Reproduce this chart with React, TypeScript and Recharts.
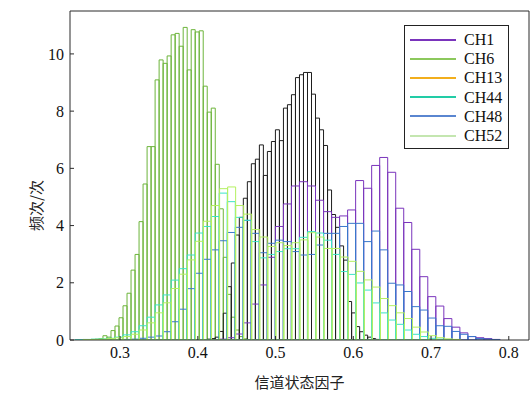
import React from 'react';
import { BarChart, Bar, XAxis, YAxis, Legend } from 'recharts';

const W = 531;
const H = 397;

// x scale of the histogram bins (the top ticks are on it), and the printed bottom labels
const DATA_DOMAIN: [number, number] = [0.2539, 0.8249];
const LABEL_DOMAIN: [number, number] = [0.2356, 0.826];
const Y_MAX = 11.5;

const channels = ['CH1', 'CH6', 'CH13', 'CH44', 'CH48', 'CH52'];
const barColors = ['#7A34BC', '#6CB43A', '#1E1E1E', '#3CE4C8', '#3A78CC', '#B4F060'];
const legendColors = ['#7A34BC', '#8CC85C', '#F2AE1C', '#22CCA6', '#5A86D0', '#C4E6B0'];

const xTicks = [0.3, 0.4, 0.5, 0.6, 0.7, 0.8];
const topTicks = [0.3, 0.35, 0.4, 0.45, 0.5, 0.55, 0.6, 0.65, 0.7, 0.75, 0.8];
const yTicks = [0, 2, 4, 6, 8, 10];

// first bin edge and bin width of each histogram
const binStart = [0.44, 0.28, 0.425, 0.26, 0.32, 0.27];
const binWidth = [0.01, 0.005, 0.005, 0.01, 0.01, 0.01];

const ch1Counts = [
  0.03, 0.08, 0.21, 0.6, 1.26, 1.93, 2.9, 3.98, 4.77, 5.4, 5.55, 5.4, 4.9, 4.5, 4.3, 4.35, 4.56,
  5.59, 5.32, 6.12, 6.4, 5.88, 4.62, 4.12, 3.18, 2.22, 1.52, 1.19, 0.75, 0.45, 0.25, 0.12, 0.08,
  0.05, 0.02,
];
const ch6Counts = [
  0.02, 0.03, 0.05, 0.15, 0.1, 0.33, 0.49, 0.78, 1.2, 1.64, 2.45, 3.0, 4.15, 5.47, 6.78, 6.78,
  9.12, 9.82, 9.7, 9.96, 10.7, 10.75, 10.3, 10.96, 9.47, 10.88, 10.8, 10.84, 8.9, 7.99, 8.13, 6.16,
  4.6, 2.9, 1.6, 0.8, 0.35, 0.12, 0.04,
];
const ch13Counts = [
  0.03, 0.05, 0.1, 0.3, 0.94, 1.87, 2.7, 3.68, 4.3, 4.97, 5.55, 6.18, 6.34, 6.84, 5.77, 6.61,
  6.96, 7.37, 6.99, 8.13, 8.25, 8.6, 9.2, 9.3, 9.38, 9.38, 8.62, 7.78, 7.37, 6.82, 5.26, 4.4,
  3.95, 3.3, 2.8, 1.35, 0.95, 0.47, 0.29, 0.17, 0.1, 0.05, 0.02,
];
const ch44Counts = [
  0.01, 0.02, 0.03, 0.04, 0.06, 0.1, 0.18, 0.29, 0.5, 0.8, 1.23, 1.58, 2.1, 2.5, 2.98, 3.75,
  3.98, 4.33, 5.15, 4.85, 4.3, 4.2, 3.45, 2.88, 3.0, 3.1, 3.2, 3.2, 3.6, 3.8, 3.75, 3.5, 3.0,
  2.4, 2.3, 2.0, 1.75, 1.3, 0.95, 0.7, 0.55, 0.35, 0.2, 0.12, 0.06, 0.03, 0.01,
];
const ch48Counts = [
  0.02, 0.03, 0.06, 0.1, 0.14, 0.29, 0.64, 1.08, 1.8, 2.34, 2.83, 3.16, 3.48, 3.77, 3.95, 4.19,
  3.74, 3.06, 3.39, 3.5, 3.45, 3.1, 2.98, 3.0, 3.33, 3.74, 3.74, 3.98, 4.09, 4.09, 3.45, 3.82,
  3.16, 1.99, 1.93, 1.7, 1.17, 1.05, 0.77, 0.5, 0.48, 0.3, 0.2, 0.12, 0.05, 0.03, 0.01,
];
const ch52Counts = [
  0.01, 0.02, 0.03, 0.05, 0.08, 0.12, 0.2, 0.35, 0.6, 0.95, 1.3, 1.8, 2.3, 2.8, 3.45, 4.15, 4.7,
  5.29, 5.35, 4.7, 4.4, 3.86, 3.6, 3.27, 3.4, 3.3, 3.4, 3.5, 3.75, 3.6, 3.2, 3.2, 2.9, 2.75, 2.4,
  2.1, 1.85, 1.45, 1.2, 0.95, 0.75, 0.45, 0.28, 0.15, 0.08, 0.04, 0.02,
];

const counts = [ch1Counts, ch6Counts, ch13Counts, ch44Counts, ch48Counts, ch52Counts];

const toRows = (k: number) =>
  counts[k].map((n, i) => ({ x: binStart[k] + (i + 0.5) * binWidth[k], n }));

const serif = '"Liberation Serif", "Times New Roman", serif';
const cjk = '"Noto Sans CJK SC", sans-serif';
const axisColor = '#2b2b2b';

const LegendBox = () => (
  <div
    style={{
      border: '1.3px solid #222',
      background: '#fff',
      width: 103,
      padding: '4px 0 3px 0',
      fontFamily: serif,
      fontSize: 16,
      lineHeight: '19.2px',
      color: '#111',
    }}
  >
    {channels.map((c, i) => (
      <div key={c} style={{ display: 'flex', alignItems: 'center' }}>
        <span
          style={{
            display: 'inline-block',
            width: 46,
            height: 2,
            background: legendColors[i],
            marginLeft: 5,
            marginRight: 8,
          }}
        />
        <span>{c}</span>
      </div>
    ))}
  </div>
);

const YLabel = (props: any) => {
  const { viewBox } = props;
  const x = viewBox.x + 25;
  const y = viewBox.y + viewBox.height / 2 + 30;
  return (
    <text
      x={x}
      y={y}
      transform={`rotate(-90, ${x}, ${y})`}
      textAnchor="middle"
      dominantBaseline="central"
      fontFamily={cjk}
      fontSize={15}
      fill="#222"
    >
      频次/次
    </text>
  );
};

const HistLayer = ({ k, withAxes }: { k: number; withAxes: boolean }) => (
  <div style={{ position: 'absolute', left: 0, top: 0 }}>
    <BarChart
      width={W}
      height={H}
      data={toRows(k)}
      margin={withAxes ? { top: 11, right: 2, bottom: 27, left: 10 } : { top: 12, right: 3, bottom: 57, left: 70 }}
      barCategoryGap={0}
      barGap={0}
    >
      <XAxis xAxisId="bins" type="number" dataKey="x" domain={DATA_DOMAIN} allowDataOverflow hide height={0} />
      <YAxis yAxisId="count" type="number" domain={[0, Y_MAX]} allowDataOverflow hide width={0} />
      {withAxes && (
        <XAxis
          xAxisId="labels"
          type="number"
          dataKey="x"
          orientation="bottom"
          domain={LABEL_DOMAIN}
          ticks={xTicks}
          allowDataOverflow
          height={30}
          stroke={axisColor}
          tickSize={-4}
          tickMargin={11}
          tick={{ fill: '#111', fontFamily: serif, fontSize: 16 }}
          label={{
            value: '信道状态因子',
            position: 'bottom',
            offset: 7,
            style: { fontFamily: cjk, fontSize: 15, fill: '#222' },
          }}
        />
      )}
      {withAxes && (
        <XAxis
          xAxisId="top"
          type="number"
          dataKey="x"
          orientation="top"
          domain={DATA_DOMAIN}
          ticks={topTicks}
          allowDataOverflow
          height={1}
          mirror
          tickSize={4}
          tick={false}
          stroke={axisColor}
        />
      )}
      {withAxes && (
        <YAxis
          yAxisId="left"
          type="number"
          domain={[0, Y_MAX]}
          ticks={yTicks}
          allowDataOverflow
          width={60}
          stroke={axisColor}
          tickSize={-4}
          tickMargin={10}
          tick={{ fill: '#111', fontFamily: serif, fontSize: 16 }}
          label={<YLabel />}
        />
      )}
      {withAxes && (
        <YAxis
          yAxisId="right"
          type="number"
          orientation="right"
          domain={[0, Y_MAX]}
          ticks={yTicks}
          allowDataOverflow
          width={1}
          mirror
          tickSize={4}
          tick={false}
          stroke={axisColor}
        />
      )}
      {withAxes && (
        <Legend
          layout="vertical"
          align="center"
          verticalAlign="middle"
          wrapperStyle={{ left: 404, top: 25, width: 106 }}
          content={() => <LegendBox />}
        />
      )}
      <Bar
        xAxisId="bins"
        yAxisId="count"
        dataKey="n"
        fill="none"
        stroke={barColors[k]}
        strokeWidth={1}
        isAnimationActive={false}
      />
    </BarChart>
  </div>
);

// drawing order: CH6 and CH13 first, then the broad histograms on top
const order = [1, 2, 0, 4, 3, 5];

export default function App() {
  return (
    <div style={{ position: 'absolute', left: 0, top: 0, width: W, height: H, background: '#fff' }}>
      {order.map((k, i) => (
        <HistLayer key={channels[k]} k={k} withAxes={i === order.length - 1} />
      ))}
    </div>
  );
}
